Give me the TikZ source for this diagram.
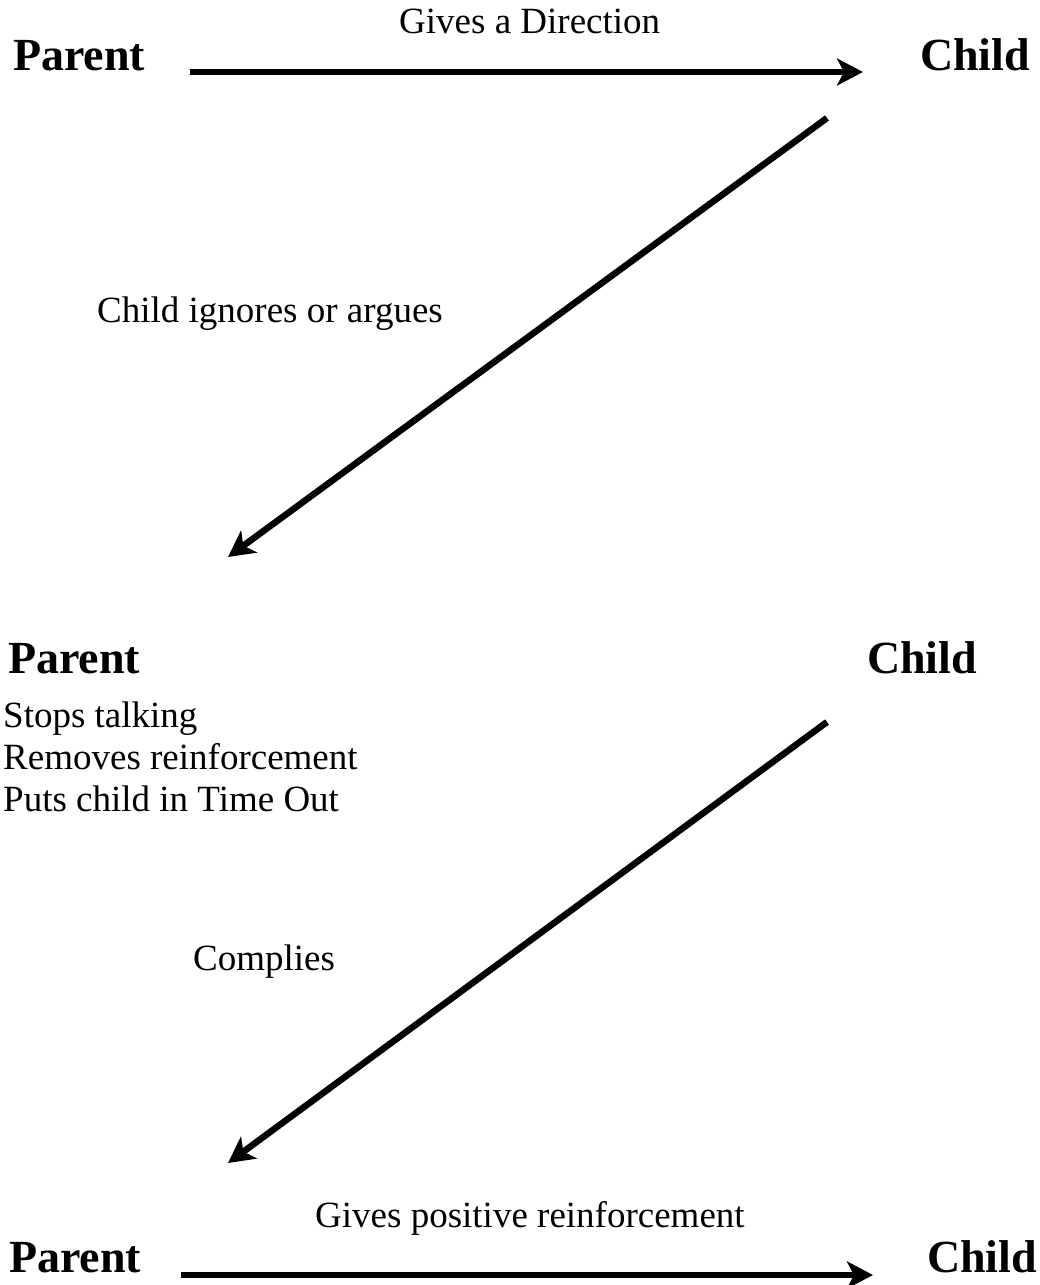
\documentclass[tikz,border=0pt]{standalone}
\usepackage{fontspec}
\setmainfont{Liberation Serif}
\usetikzlibrary{arrows.meta,calc}
\tikzset{
  actor/.style={inner sep=0pt, anchor=base west, font=\fontsize{46}{55}\selectfont\bfseries},
  lbl/.style={inner sep=0pt, anchor=base west, font=\fontsize{37}{42}\selectfont},
  flow/.style={line width=6.5pt, -{Stealth[length=26pt 0, width=27pt 0, inset=7pt 0]}}
}
\begin{document}
\begin{tikzpicture}[x=1pt,y=-1pt]
\useasboundingbox (0,0) rectangle (1039,1285);
% top row
\node[actor] (p1) at (13,70) {Parent};
\node[actor] (c1) at (920,70) {Child};
\node[lbl] (l1) at (399,33) {Gives a Direction};
\draw[flow] ($(p1.base east)+(45,2)$) -- ($(c1.base west)+(-57,2)$);
% first diagonal
\node[lbl] (l2) at (97,322) {Child ignores or argues};
\node[actor] (p2) at (8,673) {Parent};
\node[actor] (c2) at (867,673) {Child};
\draw[flow] ($(c1.base west)+(-93,48)$) -- ($(p2.base west)+(220,-116)$);
% list
\node[lbl, align=left, anchor=north west, font=\fontsize{37}{42}\selectfont] (lst) at (3,702)
  {Stops talking\\Removes reinforcement\\Puts child in Time Out};
% second diagonal
\node[lbl] (l3) at (193,970) {Complies};
\node[actor] (p3) at (9,1272) {Parent};
\node[actor] (c3) at (927,1272) {Child};
\draw[flow] ($(c2.base west)+(-40,49)$) -- ($(p3.base west)+(219,-109)$);
% bottom row
\node[lbl] (l4) at (315,1227) {Gives positive reinforcement};
\draw[flow] ($(p3.base east)+(40,3)$) -- ($(c3.base west)+(-54,3)$);
\end{tikzpicture}
\end{document}
